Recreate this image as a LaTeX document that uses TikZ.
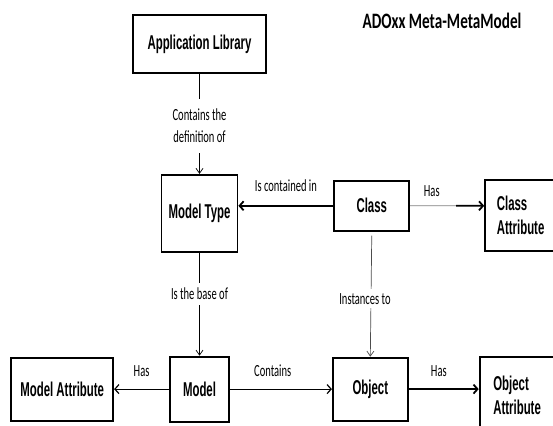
\documentclass[tikz,border=0pt]{standalone}
\usepackage{fontspec}
\usepackage{xcolor}
\usepackage{tikz}
\usetikzlibrary{arrows.meta, positioning, calc}
\newfontfamily\boxfont[FakeStretch=0.57]{Liberation Sans Bold}
\newfontfamily\labelfont[FakeStretch=0.62]{Carlito}
\newfontfamily\titlefont[FakeStretch=0.69]{Carlito Bold}
\tikzstyle{block} = [rectangle, draw=black, line width=1.8pt, fill=white, inner sep=0pt, align=center, font=\boxfont\fontsize{20}{24}\selectfont]
\tikzstyle{edgelabel} = [font=\labelfont\fontsize{17}{22}\selectfont, align=center, inner sep=1pt]
\tikzstyle{arrow} = [line width=1.8pt, -{Straight Barb[length=4pt, width=9pt]}]
\tikzstyle{midarrow} = [line width=1.2pt, -{Straight Barb[length=4pt, width=9pt]}]
\tikzstyle{thinarrow} = [line width=0.7pt, -{Straight Barb[length=5pt, width=7pt]}]
\tikzstyle{thinline} = [line width=0.7pt, gray]

\begin{document}
\begin{tikzpicture}[x=1pt, y=-1pt]
    \useasboundingbox (0,0) rectangle (553,425);
    \node (title) [font=\titlefont\fontsize{22}{24}\selectfont] at (442,21) {ADOxx Meta-MetaModel};

    \node (lib) [block, minimum width=133pt, minimum height=58pt] at (199.5,44) {Application Library};
    \node (mt) [block, minimum width=76pt, minimum height=77pt, below=100pt of lib] {Model Type};
    \node (cls) [block, minimum width=75pt, minimum height=50pt, right=95pt of mt, yshift=7.5pt] {Class};
    \node (catt) [block, align=left, minimum width=71pt, minimum height=71pt, right=74pt of cls, yshift=-9.5pt] {Class\\Attribute};

    \node (mod) [block, minimum width=59pt, minimum height=65pt, below=103pt of mt] {Model};
    \node (matt) [block, minimum width=102pt, minimum height=63pt, left=55pt of mod] {Model Attribute};
    \node (obj) [block, minimum width=75pt, minimum height=63pt, right=102pt of mod] {Object};
    \node (oatt) [block, align=left, minimum width=75pt, minimum height=76pt, right=70pt of obj, yshift=-6pt] {Object\\Attribute};

    \coordinate (clsjoin) at ($(cls.east)!0.62!(cls.east -| catt.west)$);

    \draw [thinarrow] (lib.south) -- node[edgelabel, fill=white, inner ysep=10pt, pos=0.52] {Contains the\\definition of} (lib.south |- mt.north);
    \draw [thinarrow] (mt.south) -- node[edgelabel, fill=white, inner ysep=5pt, pos=0.4] {Is the base of} (mod.north);
    \draw [thinarrow, gray!60!black, shorten <=4pt] (cls.south) -- node[edgelabel, text=black, fill=white, inner ysep=4pt, pos=0.536, xshift=-6pt] {Instances to} (obj.north);

    \draw [arrow] (cls.west) -- node[edgelabel, above=12pt] {Is contained in} (cls.west -| mt.east);
    \draw [thinline] (cls.east) -- node[edgelabel, text=black, above=8pt, pos=0.47] {Has} (clsjoin);
    \draw [arrow] (clsjoin) -- (cls.east -| catt.west);

    \draw [midarrow] (mod.west) -- node[edgelabel, above=11pt] {Has} (mod.west -| matt.east);
    \draw [midarrow] (mod.east) -- node[edgelabel, above=11pt, pos=0.42] {Contains} (mod.east -| obj.west);
    \draw [arrow] (obj.east) -- node[edgelabel, above=11pt, pos=0.43] {Has} (obj.east -| oatt.west);
\end{tikzpicture}
\end{document}
